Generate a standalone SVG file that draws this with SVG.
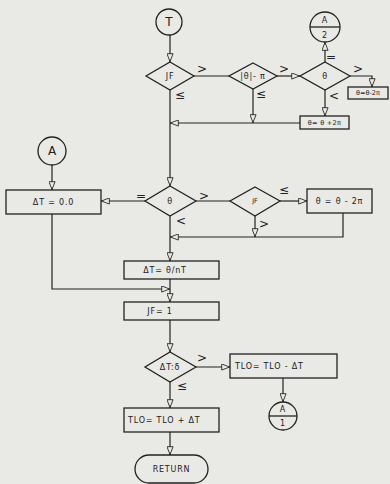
<svg xmlns="http://www.w3.org/2000/svg" width="390" height="484" viewBox="0 0 390 484">
<defs>
<marker id="arr" viewBox="0 0 10 8" refX="10" refY="4" markerWidth="10" markerHeight="7" markerUnits="userSpaceOnUse" orient="auto">
<path d="M0.5,0.5 L9.5,4 L0.5,7.5 Z" fill="#e9e9e6" stroke="#222" stroke-width="1"/>
</marker>
</defs>
<style>
.bg{fill:#e9e9e6}
.s{fill:none;stroke:#222;stroke-width:1.3}
.n{fill:#e9e9e6;stroke:#222;stroke-width:1.3}
.c{stroke:#222;stroke-width:1.2;fill:none}
.t{font-family:"DejaVu Sans","Liberation Sans",sans-serif;font-size:8px;fill:#222;text-anchor:middle;dominant-baseline:central;letter-spacing:0.8px}
.tl{font-family:"DejaVu Sans","Liberation Sans",sans-serif;font-size:8px;fill:#222;text-anchor:start;dominant-baseline:central;letter-spacing:0.8px}
.tb{font-family:"DejaVu Sans","Liberation Sans",sans-serif;font-size:12px;fill:#222;text-anchor:middle;dominant-baseline:central}
.r{font-family:"DejaVu Sans","Liberation Sans",sans-serif;font-size:12px;fill:#222;text-anchor:middle;dominant-baseline:central}
.ts{font-family:"DejaVu Sans","Liberation Sans",sans-serif;font-size:6.5px;fill:#222;text-anchor:middle;dominant-baseline:central}
</style>
<rect class="bg" x="0" y="0" width="390" height="484"/>

<g id="connectors">
<line class="c" x1="170" y1="35" x2="170" y2="62" marker-end="url(#arr)"/>
<line class="c" x1="194" y1="76" x2="229" y2="76"/>
<line class="c" x1="277" y1="76" x2="300" y2="76" marker-end="url(#arr)"/>
<line class="c" x1="325" y1="62" x2="325" y2="42" marker-end="url(#arr)"/>
<polyline class="c" points="350,76 372,76 372,87" marker-end="url(#arr)"/>
<line class="c" x1="325" y1="90" x2="325" y2="116" marker-end="url(#arr)"/>
<line class="c" x1="300" y1="123" x2="170" y2="123" marker-end="url(#arr)"/>
<line class="c" x1="253" y1="89" x2="253" y2="123" marker-end="url(#arr)"/>
<line class="c" x1="170" y1="90" x2="170" y2="186" marker-end="url(#arr)"/>
<line class="c" x1="145" y1="201" x2="101" y2="201" marker-end="url(#arr)"/>
<line class="c" x1="52" y1="165" x2="52" y2="190" marker-end="url(#arr)"/>
<line class="c" x1="196" y1="201" x2="230" y2="201"/>
<line class="c" x1="280" y1="201" x2="307" y2="201" marker-end="url(#arr)"/>
<line class="c" x1="255" y1="216" x2="255" y2="237" marker-end="url(#arr)"/>
<polyline class="c" points="343,213 343,237 170,237" marker-end="url(#arr)"/>
<line class="c" x1="170" y1="216" x2="170" y2="261" marker-end="url(#arr)"/>
<polyline class="c" points="52,214 52,289 170,289" marker-end="url(#arr)"/>
<line class="c" x1="170" y1="279" x2="170" y2="302" marker-end="url(#arr)"/>
<line class="c" x1="170" y1="320" x2="170" y2="352" marker-end="url(#arr)"/>
<line class="c" x1="196" y1="367" x2="230" y2="367" marker-end="url(#arr)"/>
<line class="c" x1="283" y1="378" x2="283" y2="402" marker-end="url(#arr)"/>
<line class="c" x1="170" y1="382" x2="170" y2="408" marker-end="url(#arr)"/>
<line class="c" x1="170" y1="432" x2="170" y2="455" marker-end="url(#arr)"/>
</g>

<g id="labels">
<text class="r" x="202" y="69">&gt;</text>
<text class="r" x="180" y="95">≤</text>
<text class="r" x="284" y="69">&gt;</text>
<text class="r" x="261" y="94">≤</text>
<text class="r" x="331" y="57">=</text>
<text class="r" x="358" y="69">&gt;</text>
<text class="r" x="334" y="96">&lt;</text>
<text class="r" x="141" y="196">=</text>
<text class="r" x="204" y="196">&gt;</text>
<text class="r" x="181" y="221">&lt;</text>
<text class="r" x="284" y="190">≤</text>
<text class="r" x="264" y="224">&gt;</text>
<text class="r" x="202" y="358">&gt;</text>
<text class="r" x="182" y="386">≤</text>
</g>

<g id="start"><circle class="n" cx="169" cy="22" r="13"/><text class="tb" x="169" y="22">T</text></g>
<g id="jf1"><polygon class="n" points="170,62 194,76 170,90 146,76"/><text class="t" x="170" y="76">JF</text></g>
<g id="absTheta"><polygon class="n" points="253,63 277,76 253,89 229,76"/><text class="t" x="253" y="76">|θ|- π</text></g>
<g id="theta1"><polygon class="n" points="325,62 350,76 325,90 300,76"/><text class="t" x="325" y="76" font-size="9">θ</text></g>
<g id="connA2"><circle class="n" cx="325" cy="27" r="15"/><line class="s" x1="310" y1="27" x2="340" y2="27"/><text class="t" x="325" y="20" font-size="10">A</text><text class="t" x="325" y="35" font-size="9">2</text></g>
<g id="boxMinus1"><rect class="n" x="348" y="87" width="40" height="12"/><text class="ts" x="368" y="93" letter-spacing="0">θ=θ-2π</text></g>
<g id="boxPlus"><rect class="n" x="300" y="116" width="49" height="13"/><text class="ts" x="324.5" y="122.5" letter-spacing="0.3">θ= θ +2π</text></g>
<g id="connA"><circle class="n" cx="52" cy="151" r="14"/><text class="tb" x="52" y="151">A</text></g>
<g id="boxZero"><rect class="n" x="6" y="190" width="95" height="24"/><text class="t" x="53.5" y="202">ΔT = 0.0</text></g>
<g id="theta2"><polygon class="n" points="170,186 196,201 170,216 145,201"/><text class="t" x="170" y="201" font-size="9">θ</text></g>
<g id="jf2"><polygon class="n" points="255,187 280,201 255,216 230,201"/><text class="ts" x="255" y="201">JF</text></g>
<g id="boxMinus2"><rect class="n" x="307" y="189" width="65" height="24"/><text class="t" x="339.5" y="201" letter-spacing="0.3">θ = θ - 2π</text></g>
<g id="boxDt"><rect class="n" x="124" y="261" width="95" height="18"/><text class="t" x="165" y="270" letter-spacing="1.3">ΔT= θ/nT</text></g>
<g id="boxJf"><rect class="n" x="124" y="302" width="95" height="18"/><text class="t" x="160" y="311" font-size="9">JF= 1</text></g>
<g id="dtDelta"><polygon class="n" points="170,352 196,367 170,382 145,367"/><text class="t" x="170" y="367" letter-spacing="0.3">ΔT:δ</text></g>
<g id="boxTloMinus"><rect class="n" x="230" y="354" width="107" height="24"/><text class="tl" x="235" y="366" letter-spacing="1">TLO= TLO - ΔT</text></g>
<g id="connA1"><circle class="n" cx="283" cy="416" r="14"/><line class="s" x1="269" y1="416" x2="297" y2="416"/><text class="t" x="283" y="409" font-size="9">A</text><text class="t" x="283" y="423" font-size="9">1</text></g>
<g id="boxTloPlus"><rect class="n" x="124" y="408" width="95" height="24"/><text class="tl" x="128" y="420" font-size="7.5" letter-spacing="0.6">TLO= TLO + ΔT</text></g>
<g id="return"><rect class="n" x="135" y="455" width="73" height="28" rx="14"/><text class="t" x="171.5" y="469" font-size="9" letter-spacing="1.5">RETURN</text></g>
</svg>
